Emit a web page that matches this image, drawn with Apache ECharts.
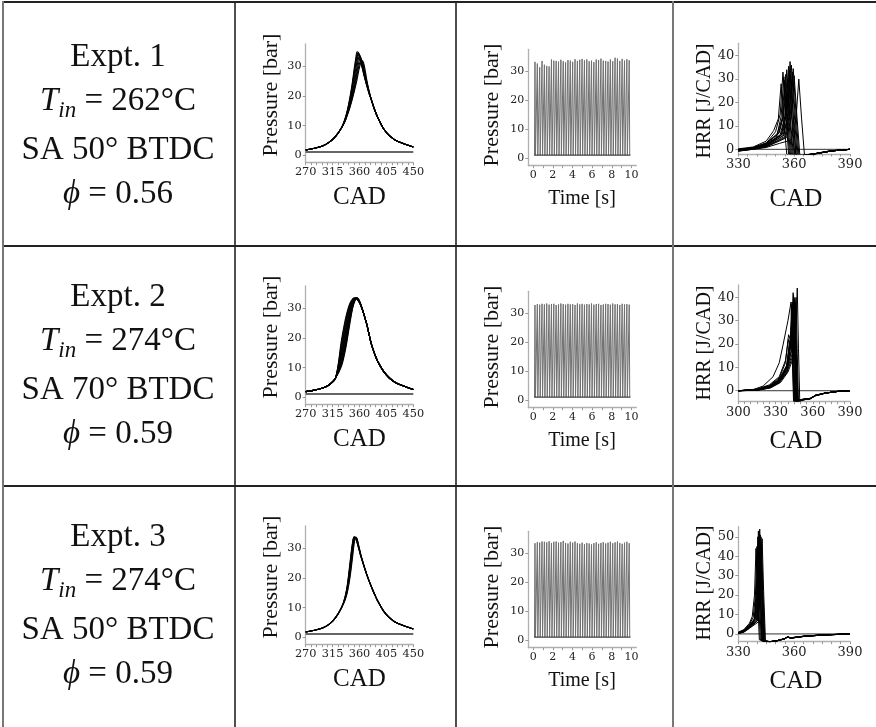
<!DOCTYPE html>
<html><head><meta charset="utf-8">
<script src="https://cdn.jsdelivr.net/npm/echarts@6/dist/echarts.min.js"></script>
<style>html,body{margin:0;padding:0;background:#fff}#c{width:876px;height:727px}</style>
</head><body><div id="c"></div>
<script>
// ---------------- DATA ----------------
const expts = ['Expt. 1', 'Expt. 2', 'Expt. 3'];
const tinVals = ['262°C', '274°C', '274°C'];
const saVals = ['SA 50° BTDC', 'SA 70° BTDC', 'SA 50° BTDC'];
const phiVals = ['0.56', '0.59', '0.59'];

// Pressure vs CAD (several overlaid cycles per experiment)
const cadP = [270,285,300,310,320,330,336,340,344,348,351,354,356,358,360,362,365,368,372,376,380,385,390,400,410,420,435,450];
const presE1 = [
 [1.8,2.4,3.3,4.5,6.4,9.3,12.5,15.5,19.5,24.5,29,33,34.9,34.6,33.2,31.5,29,26.5,23.5,20.8,18.6,15.5,13,9,6.6,5.1,3.8,2.8],
 [1.8,2.4,3.3,4.5,6.4,9.3,12.2,15,18.5,23,27,31,33.3,34.5,33.8,32.2,29.6,27,23.8,21,18.6,15.5,13,9,6.6,5.1,3.8,2.8],
 [1.8,2.4,3.3,4.5,6.4,9.3,12,14.6,17.8,21.8,25.3,29.2,31.8,33.7,33.9,32.8,30.3,27.5,24.1,21.2,18.6,15.5,13,9,6.6,5.1,3.8,2.8],
 [1.8,2.4,3.3,4.5,6.4,9.3,11.8,14.3,17.2,20.8,24,27.5,30,32.4,33.4,33,30.9,28,24.4,21.3,18.6,15.5,13,9,6.6,5.1,3.8,2.8],
 [1.8,2.4,3.3,4.5,6.4,9.3,11.7,14.1,16.8,20,22.8,26,28.3,30.6,32.2,32.6,31.2,28.5,24.7,21.4,18.6,15.5,13,9,6.6,5.1,3.8,2.8],
 [1.8,2.4,3.3,4.5,6.4,9.3,12.3,15.2,19,23.8,28,32,34,34.3,33.4,31.8,29.3,26.8,23.7,20.9,18.6,15.5,13,9,6.6,5.1,3.8,2.8],
 [1.8,2.4,3.3,4.5,6.4,9.3,11.6,13.9,16.4,19.4,22,24.8,27,29.2,30.9,31.7,31.1,28.8,24.9,21.5,18.6,15.5,13,9,6.6,5.1,3.8,2.8],
 [1.8,2.4,3.3,4.5,6.4,9.3,11.5,13.7,16.1,18.9,21.3,23.8,25.7,27.8,29.6,31,31.8,30.2,25.6,21.7,18.6,15.5,13,9,6.6,5.1,3.8,2.8]
];
const presE2 = [
 [1.9,2.4,3.2,4.3,6.5,19.5,26,29.3,31.7,33,33.4,33.3,33,32.5,31.8,30.9,29.3,27.5,24.7,21.2,17.8,14.8,12.3,8.8,6.5,5,3.7,2.6],
 [1.9,2.4,3.2,4.3,6.5,18.3,25,28.6,31.3,32.8,33.4,33.4,33.1,32.6,31.9,31,29.4,27.5,24.7,21.2,17.8,14.8,12.3,8.8,6.5,5,3.7,2.6],
 [1.9,2.4,3.2,4.3,6.5,17,23.8,27.6,30.7,32.6,33.3,33.4,33.1,32.6,31.9,31,29.4,27.5,24.7,21.2,17.8,14.8,12.3,8.8,6.5,5,3.7,2.6],
 [1.9,2.4,3.2,4.3,6.5,16.1,22.6,26.8,30.2,32.3,33.2,33.4,33.2,32.7,32,31.1,29.4,27.5,24.7,21.2,17.8,14.8,12.3,8.8,6.5,5,3.7,2.6],
 [1.9,2.4,3.2,4.3,6.5,15,21.5,25.8,29.5,32,33.1,33.4,33.2,32.8,32,31.1,29.4,27.5,24.7,21.2,17.8,14.8,12.3,8.8,6.5,5,3.7,2.6],
 [1.9,2.4,3.2,4.3,6.5,14.2,20.3,24.9,28.8,31.6,32.9,33.4,33.3,32.9,32.1,31.2,29.5,27.5,24.7,21.2,17.8,14.8,12.3,8.8,6.5,5,3.7,2.6],
 [1.9,2.4,3.2,4.3,6.5,13.3,19.3,23.8,28.2,31.3,32.7,33.4,33.3,32.9,32.1,31.2,29.5,27.5,24.7,21.2,17.8,14.8,12.3,8.8,6.5,5,3.7,2.6],
 [1.9,2.4,3.2,4.3,6.5,12.4,18.2,22.7,27.3,30.8,32.4,33.3,33.4,33,32.2,31.3,29.5,27.5,24.7,21.2,17.8,14.8,12.3,8.8,6.5,5,3.7,2.6],
 [1.9,2.4,3.2,4.3,6.5,11.8,17.3,21.8,26.6,30.4,32.2,33.3,33.4,33,32.3,31.3,29.5,27.5,24.7,21.2,17.8,14.8,12.3,8.8,6.5,5,3.7,2.6],
 [1.9,2.4,3.2,4.3,6.5,11.1,16.3,20.8,25.7,29.9,32,33.2,33.4,33.1,32.4,31.4,29.5,27.5,24.7,21.2,17.8,14.8,12.3,8.8,6.5,5,3.7,2.6],
 [1.9,2.4,3.2,4.3,6.5,10.5,15.5,20,25,29.5,31.8,33.1,33.4,33.2,32.5,31.5,29.6,27.5,24.7,21.2,17.8,14.8,12.3,8.8,6.5,5,3.7,2.6]
];
const presE3 = [
 [1.8,2.4,3.3,4.5,6.6,10,13.8,18.2,25,31.5,33.9,33,31.8,30.4,28.9,27.4,25.5,23.6,21.2,19,17,14.6,12.4,8.9,6.6,5.1,3.8,2.8],
 [1.8,2.4,3.3,4.5,6.6,10,13.4,17.4,23.6,30.4,33.7,33.4,32.2,30.7,29.2,27.6,25.6,23.7,21.2,19,17,14.6,12.4,8.9,6.6,5.1,3.8,2.8],
 [1.8,2.4,3.3,4.5,6.6,10,13.1,16.7,22.3,29.1,33.2,33.7,32.6,31,29.4,27.8,25.7,23.7,21.3,19,17,14.6,12.4,8.9,6.6,5.1,3.8,2.8],
 [1.8,2.4,3.3,4.5,6.6,10,12.8,16,21,27.6,32.4,33.8,32.9,31.3,29.6,27.9,25.8,23.8,21.3,19,17,14.6,12.4,8.9,6.6,5.1,3.8,2.8],
 [1.8,2.4,3.3,4.5,6.6,10,12.6,15.5,20,26.3,31.5,33.7,33.2,31.6,29.8,28,25.9,23.8,21.3,19,17,14.6,12.4,8.9,6.6,5.1,3.8,2.8],
 [1.8,2.4,3.3,4.5,6.6,10,13.6,17.8,24.3,31,33.9,33.2,32,30.5,29,27.5,25.5,23.6,21.2,19,17,14.6,12.4,8.9,6.6,5.1,3.8,2.8]
];
const presBaseCad = [270, 450];
const presBaseVal = [1.1, 1.1];

// Pressure vs time: one peak per cycle
const cycleTimes = [0.18,0.42,0.66,0.90,1.14,1.38,1.62,1.86,2.10,2.34,2.58,2.82,3.06,3.30,3.54,3.78,4.02,4.26,4.50,4.74,4.98,5.22,5.46,5.70,5.94,6.18,6.42,6.66,6.90,7.14,7.38,7.62,7.86,8.10,8.34,8.58,8.82,9.06,9.30,9.54,9.78];
const peaksE1 = [33.2,32.6,31.3,33.5,32.2,31.8,31.6,34.0,33.6,33.5,33.3,33.9,33.4,33.0,33.8,33.6,33.2,34.1,33.5,33.9,34.2,33.7,34.0,33.4,33.6,33.1,34.0,33.8,34.3,33.6,33.5,33.3,34.0,33.4,34.6,34.3,33.5,34.2,33.6,34.1,33.7];
const peaksE2 = [32.8,33.1,32.9,33.2,33.0,33.3,32.9,33.1,33.2,32.8,33.0,33.3,33.1,32.9,33.2,33.0,33.1,32.8,33.3,33.0,33.2,32.9,33.1,33.0,33.3,32.9,33.1,33.2,32.8,33.0,33.2,33.1,32.9,33.3,33.0,33.1,32.8,33.2,33.0,33.1,32.9];
const peaksE3 = [33.4,33.8,33.6,34.0,33.9,33.7,34.1,33.5,33.9,34.0,33.6,33.8,34.2,33.5,33.3,33.9,33.6,34.0,33.4,33.2,33.6,33.1,33.5,33.3,33.0,33.4,33.7,33.2,33.5,33.8,33.3,33.6,33.9,33.4,33.7,34.0,33.5,33.2,33.6,33.9,33.4];
const timeBase = [[0.1, 1.1], [9.9, 1.1]];

// Heat release rate vs CAD ([CAD, HRR] per cycle)
const hrrE1 = [
 [[330,0],[338,0.5],[345,2],[350.5,5],[353,14],[354.5,31],[356,14],[357.5,-2],[359.5,-3],[372,-1.8],[380,-0.7],[390,0]],
 [[330,-0.5],[338,0.3],[345,1.5],[353.8,6.5],[356.3,17],[357.8,37.5],[359.3,17],[360.8,-2],[362.8,-3],[372,-1.8],[380,-0.7],[390,0]],
 [[330,-0.3],[338,0.8],[345,2.8],[352,7],[354.5,15],[356,34],[357.5,15],[359,-2],[361,-3.2],[372,-1.9],[380,-0.7],[390,0]],
 [[330,-0.6],[338,0.2],[345,1.2],[355,5.5],[357.5,15],[359,33],[360.5,15],[362,-2],[364,-3],[372,-1.7],[380,-0.6],[390,0]],
 [[330,-0.8],[338,0],[345,0.8],[352,2.5],[358.5,4],[361,13],[362.5,30],[364,13],[365.5,-2],[367.5,-3],[374,-1.5],[382,-0.5],[390,0]],
 [[330,0.2],[338,1],[345,3.5],[349,8],[351.5,13],[353,28],[354.5,12],[356,-2],[358,-3],[372,-1.8],[380,-0.7],[390,0]],
 [[330,-0.4],[338,0.4],[345,2],[353,6],[355.5,16],[357,35.5],[358.5,16],[360,-2],[362,-3.1],[372,-1.8],[380,-0.7],[390,0]],
 [[330,-0.2],[338,0.6],[345,2.4],[351.5,6.5],[354,14],[355.5,32],[357,14],[358.5,-2],[360.5,-2.9],[372,-1.8],[380,-0.7],[390,0]],
 [[330,-0.7],[338,0.1],[345,1],[356,5],[358.5,14],[360,31.5],[361.5,14],[363,-2],[365,-3],[372,-1.7],[380,-0.6],[390,0]],
 [[330,-0.5],[338,0.3],[345,1.6],[354.5,6],[357,16],[358.5,36],[360,16],[361.5,-2],[363.5,-3],[372,-1.8],[380,-0.7],[390,0]],
 [[330,-0.3],[338,0.5],[345,2.2],[352.5,6.2],[355,14],[356.5,30],[358,13],[359.5,-2],[361.5,-3],[372,-1.8],[380,-0.7],[390,0]],
 [[330,0],[338,0.7],[345,2.6],[350,7.5],[352.5,15],[354,33],[355.5,15],[357,-2],[359,-3.1],[372,-1.8],[380,-0.7],[390,0]],
 [[330,-0.6],[338,0.2],[345,1.4],[354,5.8],[356.5,14],[358,32],[359.5,14],[361,-2],[363,-3],[372,-1.7],[380,-0.6],[390,0]],
 [[330,-0.1],[338,0.6],[345,2.5],[351,6.8],[353.5,13],[355,29.5],[356.5,13],[358,-2],[360,-3],[372,-1.8],[380,-0.7],[390,0]],
 [[330,-0.7],[338,0.1],[345,1.1],[355.5,5.2],[358,15],[359.5,34.5],[361,15],[362.5,-2],[364.5,-3],[372,-1.7],[380,-0.6],[390,0]],
 [[330,-0.4],[338,0.4],[345,1.8],[353.3,6.3],[355.8,15],[357.3,33.5],[358.8,15],[360.3,-2],[362.3,-3],[372,-1.8],[380,-0.7],[390,0]]
];
const hrrE2 = [
 [[300,0],[315,0.3],[325,1.5],[333,4],[339,9],[342.5,17],[344,24],[345,40],[346,16],[347,-4.5],[352,-3.8],[358,-3.4],[362,-2],[370,-1],[380,-0.3],[390,0]],
 [[300,0],[315,0.5],[325,2],[333,5],[339,11],[341,20],[342.5,23],[343.5,38],[344.5,15],[345.5,-4.5],[352,-3.8],[358,-3.3],[362,-2.2],[370,-1.1],[380,-0.3],[390,0]],
 [[300,0],[312,0.5],[320,2],[328,6],[333,12],[336,19.5],[340,30],[342.5,38],[343.5,15],[344.5,-4.5],[350,-4],[358,-3.4],[362,-2],[370,-1],[380,-0.3],[390,0]],
 [[300,0],[316,0.2],[326,1.2],[334,3.5],[340,8],[345,15],[346.5,26],[347.5,44],[348.5,18],[349.5,-4.5],[354,-3.8],[358,-3.2],[362,-2.1],[370,-1],[380,-0.3],[390,0]],
 [[300,0],[315,0.4],[325,1.8],[333,4.5],[339,10],[342,20],[343.5,25],[344.5,41],[345.5,16],[346.5,-4.5],[352,-3.7],[358,-3.4],[362,-2],[370,-1],[380,-0.3],[390,0]],
 [[300,0],[315,0.3],[325,1.6],[333,4.2],[339,9.5],[343,22],[344.5,23],[345.5,39],[346.5,16],[347.5,-4.6],[352,-3.9],[358,-3.5],[362,-2.2],[370,-1.1],[380,-0.3],[390,0]],
 [[300,0],[315,0.6],[325,2.2],[333,5.5],[338,12],[340.5,24],[342,22],[343,37],[344,15],[345,-4],[352,-3.8],[358,-3.3],[362,-2],[370,-1],[380,-0.3],[390,0]],
 [[300,0],[315,0.3],[325,1.4],[333,3.8],[339,8.5],[343.3,18],[344.8,22],[345.8,36],[346.8,14],[347.8,-4.2],[352,-3.6],[358,-3.3],[362,-2.1],[370,-1],[380,-0.3],[390,0]],
 [[300,0],[315,0.4],[325,1.7],[333,4.4],[339,10],[341.7,19],[343.2,25],[344.2,42],[345.2,17],[346.2,-4.4],[352,-3.8],[358,-3.4],[362,-2],[370,-1],[380,-0.3],[390,0]],
 [[300,0],[315,0.5],[325,1.9],[333,4.8],[339,10.5],[341.3,20],[342.8,20],[343.8,33],[344.8,13],[345.8,-4.3],[352,-3.7],[358,-3.3],[362,-2.1],[370,-1],[380,-0.3],[390,0]],
 [[300,0],[315,0.2],[325,1.3],[333,3.6],[339,8],[343.5,16],[345,23],[346,38],[347,15],[348,-4.4],[352,-3.8],[358,-3.4],[362,-2.1],[370,-1],[380,-0.3],[390,0]],
 [[300,0],[315,0.4],[325,1.6],[333,4.3],[339,9.8],[342.3,19],[343.8,21],[344.8,35],[345.8,14],[346.8,-4.3],[352,-3.7],[358,-3.3],[362,-2],[370,-1],[380,-0.3],[390,0]],
 [[300,0],[315,0.7],[325,2.5],[333,6],[338,13],[340.3,22],[341.8,18],[342.8,30],[343.8,12],[344.8,-4],[352,-3.8],[358,-3.4],[362,-2],[370,-1],[380,-0.3],[390,0]],
 [[300,0],[315,0.2],[325,1.2],[333,3.4],[339,7.6],[344,15],[345.5,24],[346.5,40],[347.5,16],[348.5,-4.5],[352,-3.9],[358,-3.4],[362,-2.1],[370,-1],[380,-0.3],[390,0]]
];
const hrrE3 = [
 [[330,0.5],[333,1.5],[336,4],[338.5,7],[339.7,22],[340.5,50],[341.3,22],[342.3,-3.5],[347,-4],[351,-3.5],[355,-2.5],[356.5,-1.5],[358,-2.2],[365,-1.3],[375,-0.6],[390,0]],
 [[330,0.3],[333,1.2],[336,3.5],[339.5,7.5],[340.7,24],[341.5,54],[342.3,24],[343.3,-3.8],[347,-4],[351,-3.4],[355,-2.4],[356.5,-1.5],[358,-2.1],[365,-1.2],[375,-0.5],[390,0]],
 [[330,0.8],[333,2],[336,5],[338,8.5],[339.2,20],[340,45],[340.8,20],[341.8,-3],[347,-4],[351,-3.5],[355,-2.5],[356.5,-1.6],[358,-2.2],[365,-1.3],[375,-0.6],[390,0]],
 [[330,0.2],[333,1],[336,3],[340,6.5],[341.2,22],[342,48],[342.8,22],[343.8,-4],[347,-4],[351,-3.4],[355,-2.4],[356.5,-1.4],[358,-2],[365,-1.2],[375,-0.5],[390,0]],
 [[330,0.6],[333,1.6],[336,4.2],[339,8],[340.2,23],[341,52],[341.8,23],[342.8,-3.6],[347,-4],[351,-3.5],[355,-2.5],[356.5,-1.5],[358,-2.1],[365,-1.3],[375,-0.6],[390,0]],
 [[330,0.4],[333,1.3],[336,3.8],[340.5,7],[341.7,21],[342.5,46],[343.3,21],[344.3,-3.7],[347,-4],[351,-3.4],[355,-2.4],[356.5,-1.5],[358,-2.1],[365,-1.2],[375,-0.5],[390,0]],
 [[330,0.7],[333,1.8],[336,4.6],[338.8,8],[340,24],[340.8,53],[341.6,24],[342.6,-3.4],[347,-4],[351,-3.5],[355,-2.5],[356.5,-1.5],[358,-2.2],[365,-1.3],[375,-0.6],[390,0]],
 [[330,0.3],[333,1.1],[336,3.3],[340.2,6.8],[341.4,22],[342.2,50],[343,22],[344,-3.9],[347,-4],[351,-3.4],[355,-2.4],[356.5,-1.4],[358,-2],[365,-1.2],[375,-0.5],[390,0]],
 [[330,0.5],[333,1.4],[336,3.9],[339.2,7.6],[340.4,21],[341.2,47],[342,21],[343,-3.6],[347,-4],[351,-3.5],[355,-2.5],[356.5,-1.5],[358,-2.1],[365,-1.3],[375,-0.6],[390,0]],
 [[330,0.4],[333,1.3],[336,3.7],[339.8,7.2],[341,23],[341.8,51],[342.6,23],[343.6,-3.8],[347,-4],[351,-3.4],[355,-2.4],[356.5,-1.5],[358,-2.1],[365,-1.2],[375,-0.5],[390,0]],
 [[330,0.9],[333,2.2],[336,5.5],[337.5,9],[338.7,20],[339.5,44],[340.3,20],[341.3,-3],[347,-4],[351,-3.5],[355,-2.5],[356.5,-1.6],[358,-2.2],[365,-1.3],[375,-0.6],[390,0]],
 [[330,0.2],[333,0.9],[336,2.9],[340.8,6.2],[342,22],[342.8,49],[343.6,22],[344.6,-3.9],[347,-4],[351,-3.4],[355,-2.4],[356.5,-1.4],[358,-2],[365,-1.2],[375,-0.5],[390,0]]
];

// axis ranges / tick labels
const cadPTicks = [270, 315, 360, 405, 450];
const presTicks = [0, 10, 20, 30];
const timeTicks = [0, 2, 4, 6, 8, 10];
const timeMinor = [0,1,2,3,4,5,6,7,8,9,10];
const hrrXRanges = [[330, 390], [300, 390], [330, 390]];
const hrrXTicks = [[330, 360, 390], [300, 330, 360, 390], [330, 360, 390]];
const hrrYRanges = [[-2, 45.3], [-4.7, 45.3], [-4, 55.2]];
const hrrYTicks = [[0, 10, 20, 30, 40], [0, 10, 20, 30, 40], [0, 10, 20, 30, 40, 50]];

// ---------------- LAYOUT / STYLE ----------------
const rowDy = [0, 242, 482];
const textDy = [0, 240, 480];
const SERIF = 'Liberation Serif';
const TICKF = 'DejaVu Serif';
const presSets = [presE1, presE2, presE3];
const peakSets = [peaksE1, peaksE2, peaksE3];
const hrrSets = [hrrE1, hrrE2, hrrE3];

const grids = [], xAxes = [], yAxes = [], series = [], graphics = [];
const axisLineStyle = { show: true, lineStyle: { color: '#b0b0b0', width: 1.3 } };
const tickStyle = (vals, len) => ({ show: true, length: len || 3, customValues: vals, lineStyle: { color: '#999', width: 1 } });
const labelStyle = (vals, size) => ({ show: true, customValues: vals, color: '#222', fontFamily: TICKF, fontSize: size, margin: 4 });

function addAxes(grid, x, y) {
  grids.push(Object.assign({ containLabel: false, outerBoundsMode: 'none' }, grid));
  const gi = grids.length - 1;
  xAxes.push(Object.assign({ gridIndex: gi, type: 'value', splitLine: { show: false }, axisLine: Object.assign({ onZero: false }, axisLineStyle) }, x));
  yAxes.push(Object.assign({ gridIndex: gi, type: 'value', splitLine: { show: false }, axisLine: Object.assign({ onZero: false }, axisLineStyle) }, y));
  return gi;
}
function title(text, x, y, size, rot) {
  graphics.push({ type: 'text', x: x, y: y, rotation: rot ? Math.PI / 2 : 0, silent: true,
    style: { text: text, fontFamily: SERIF, fontSize: size, fill: '#111', align: 'center', verticalAlign: 'middle' } });
}

for (let r = 0; r < 3; r++) {
  const dy = rowDy[r];
  // --- pressure vs CAD ---
  let gi = addAxes({ left: 305.7, top: 44 + dy, width: 107.6, height: 118.7 },
    { min: 270, max: 450, interval: 9, axisTick: { show: true, length: 2.5, lineStyle: { color: '#999' } }, axisLabel: labelStyle(cadPTicks, 11.3) },
    { min: -2.5, max: 37.5, axisTick: tickStyle(presTicks), axisLabel: labelStyle(presTicks, 11.3) });
  series.push({ type: 'line', xAxisIndex: gi, yAxisIndex: gi, symbol: 'none', silent: true,
    data: presBaseCad.map((c, i) => [c, presBaseVal[i]]), lineStyle: { color: '#333', width: 1.3 } });
  presSets[r].forEach(cyc => series.push({ type: 'line', xAxisIndex: gi, yAxisIndex: gi, symbol: 'none', smooth: 0.35, silent: true,
    data: cadP.map((c, i) => [c, cyc[i]]), lineStyle: { color: '#000', width: 1.1 } }));
  title('Pressure [bar]', 271, 95 + dy, 22, true);
  title('CAD', 359.5, 197.5 + dy, 25);

  // --- pressure vs time ---
  gi = addAxes({ left: 528.3, top: 49.3 + dy, width: 108, height: 116.4 },
    { min: -0.5, max: 10.5, axisTick: tickStyle(timeMinor, 2.5), axisLabel: labelStyle(timeTicks, 11) },
    { min: -2.5, max: 37.5, axisTick: tickStyle(presTicks), axisLabel: labelStyle(presTicks, 11) });
  const sp = [];
  cycleTimes.forEach((t, i) => { sp.push([t - 0.05, timeBase[0][1]], [t, peakSets[r][i]], [t + 0.05, timeBase[0][1]]); });
  series.push({ type: 'line', xAxisIndex: gi, yAxisIndex: gi, symbol: 'none', silent: true, data: sp, lineStyle: { color: '#707070', width: 1 } });
  series.push({ type: 'line', xAxisIndex: gi, yAxisIndex: gi, symbol: 'none', silent: true, data: timeBase, lineStyle: { color: '#444', width: 1.2 } });
  title('Pressure [bar]', 492, 105 + dy, 22, true);
  title('Time [s]', 582, 199 + dy, 20);

  // --- HRR vs CAD ---
  const hh = [110.7, 116.7, 115][r];
  const ht = [43.3, 43, 44.7][r];
  gi = addAxes({ left: 738.3, top: ht + dy, width: 111.7, height: hh },
    { min: hrrXRanges[r][0], max: hrrXRanges[r][1], interval: 5, axisTick: { show: true, length: 2.5, lineStyle: { color: '#999' } }, axisLabel: labelStyle(hrrXTicks[r], 13) },
    { min: hrrYRanges[r][0], max: hrrYRanges[r][1], axisTick: tickStyle(hrrYTicks[r]), axisLabel: labelStyle(hrrYTicks[r], 13) });
  series.push({ type: 'line', xAxisIndex: gi, yAxisIndex: gi, symbol: 'none', silent: true,
    data: [[hrrXRanges[r][0], 0], [hrrXRanges[r][1], 0]], lineStyle: { color: '#333', width: 1 } });
  hrrSets[r].forEach(cyc => series.push({ type: 'line', xAxisIndex: gi, yAxisIndex: gi, symbol: 'none', silent: true,
    data: cyc, lineStyle: { color: '#000', width: 1 } }));
  title('HRR [J/CAD]', 705, 101 + dy, 20, true);
  title('CAD', 796, 199 + dy, 25);

  // --- first column text ---
  const tdy = textDy[r];
  const base = { fontFamily: SERIF, fontSize: 33, fill: '#111', align: 'center', verticalAlign: 'middle' };
  graphics.push({ type: 'text', x: 118, y: 57 + tdy, silent: true, style: Object.assign({ text: expts[r] }, base) });
  graphics.push({ type: 'text', x: 118, y: 101 + tdy, silent: true, style: Object.assign({
    text: '{i|T}{s|in}{n| = ' + tinVals[r] + '}',
    rich: { i: { fontFamily: SERIF, fontSize: 33, fontStyle: 'italic', lineHeight: 42 },
            s: { fontFamily: SERIF, fontSize: 23, fontStyle: 'italic', lineHeight: 24, verticalAlign: 'bottom' },
            n: { fontFamily: SERIF, fontSize: 33, lineHeight: 42 } } }, base) });
  graphics.push({ type: 'text', x: 118, y: 150 + tdy, silent: true, style: Object.assign({ text: saVals[r] }, base) });
  graphics.push({ type: 'text', x: 118, y: 194 + tdy, silent: true, style: Object.assign({
    text: '{i|ϕ}{n| = ' + phiVals[r] + '}',
    rich: { i: { fontFamily: SERIF, fontSize: 33, fontStyle: 'italic' }, n: { fontFamily: SERIF, fontSize: 33 } } }, base) });
}

// table rules
const hLines = [2, 246, 486];
const vLines = [[3, '#777', 2], [235, '#222', 1.6], [456, '#222', 1.6], [673, '#777', 2]];
hLines.forEach(y => graphics.push({ type: 'line', silent: true, shape: { x1: 2, y1: y, x2: 876, y2: y }, style: { stroke: '#222', lineWidth: 2 } }));
vLines.forEach(v => graphics.push({ type: 'line', silent: true, shape: { x1: v[0], y1: 1, x2: v[0], y2: 727 }, style: { stroke: v[1], lineWidth: v[2] } }));

const chart = echarts.init(document.getElementById('c'), null, { renderer: 'canvas', width: 876, height: 727 });
chart.setOption({
  animation: false,
  backgroundColor: '#fff',
  grid: grids, xAxis: xAxes, yAxis: yAxes, series: series,
  graphic: { elements: graphics }
});
</script></body></html>
